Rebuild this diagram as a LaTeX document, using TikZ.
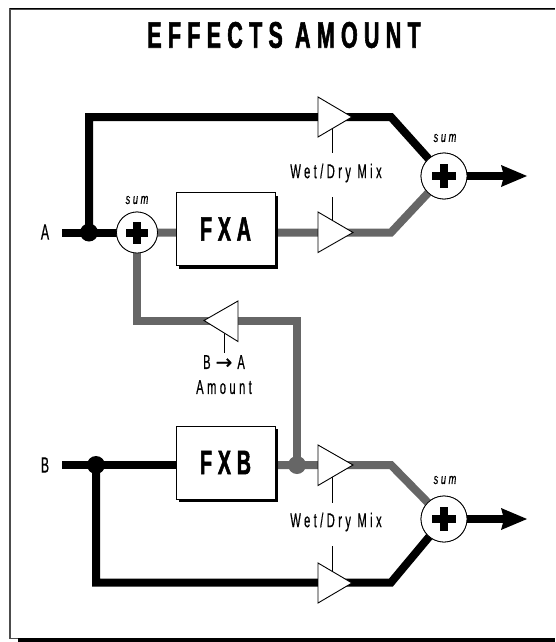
\documentclass[tikz,border=0pt]{standalone}
\usepackage{fontspec}
\setmainfont{Liberation Sans}
\newfontfamily\narrowfont[FakeStretch=0.56,LetterSpace=17,FakeBold=0.5]{Liberation Sans}
\newfontfamily\sumfont[FakeStretch=0.62,LetterSpace=17,FakeBold=0.5]{Liberation Sans}
\newfontfamily\titlefont[FakeStretch=0.58,LetterSpace=17,FakeBold=1.5]{Liberation Sans}
\newfontfamily\arrowfont[FakeBold=0.6]{DejaVu Sans}
\usetikzlibrary{arrows.meta}
\definecolor{wetgray}{HTML}{666666}
\tikzset{
 x=1pt,y=-1pt,
 blackwire/.style={line width=8pt,black,line join=miter},
 graywire/.style={line width=8pt,wetgray,line join=miter},
 junction/.style={circle,fill=#1,inner sep=0pt,minimum size=18pt},
 sumnode/.style={circle,draw=black,fill=white,line width=0.8pt,inner sep=0pt,minimum size=#1},
 fxbox/.style={rectangle,draw=black,fill=white,line width=1pt,minimum width=99pt,minimum height=73pt,inner sep=0pt,font=\titlefont\bfseries\fontsize{34}{34}\selectfont},
 amp/.style={draw=black,fill=white,line width=0.9pt,line join=miter},
 ctrl/.style={line width=0.7pt,black},
 lab/.style={inner sep=0pt,font=\narrowfont\fontsize{20}{25}\selectfont,align=center},
 sumlab/.style={inner sep=0pt,font=\sumfont\itshape\fontsize{15}{15}\selectfont},
 plus/.style={line width=8pt,black},
}
\begin{document}
\begin{tikzpicture}
\useasboundingbox (0,0) rectangle (555,642);
\fill[white] (0,0) rectangle (555,642);
% frame
\fill[black] (18,637.5) rectangle (555,642);
\draw[line width=1.4pt,black!70] (10,638.5) -- (10,9) -- (555,9);
\draw[line width=1pt,black] (9.5,8.5) -- (555,8.5);
\draw[line width=1pt,black!70] (10,638.5) -- (18,638.5);
\node[inner sep=0pt,font=\titlefont\bfseries\fontsize{37}{37}\selectfont] (title) at (284,35) {EFFECTS AMOUNT};
% coordinates
\coordinate (ainp) at (62,232.5);
\coordinate (ajun) at (89,232.5);
\coordinate (atop) at (89,117);
\coordinate (atopr) at (391,117);
\coordinate (bjun) at (96,465);
\coordinate (binp) at (62,465);
\coordinate (bmid) at (228,465);
\coordinate (bbot) at (96,582.5);
\coordinate (bbotr) at (391,582.5);
\coordinate (gmid) at (297,465);
\coordinate (gtop) at (297,320.5);
\coordinate (gleft) at (137,320.5);
\coordinate (uelbow) at (391,232.5);
\coordinate (velbow) at (391,465);
\node[sumnode=41pt] (suma) at (137,232.5) {};
\node[sumnode=46pt] (sumu) at (444,176) {};
\node[sumnode=46pt] (sumv) at (444,519) {};
% wires
\draw[blackwire] (ainp) -- (suma.center);
\draw[blackwire] (ajun) -- (atop) -- (atopr) -- (sumu.center);
\draw[blackwire] (binp) -- (bmid);
\draw[blackwire] (bjun) -- (bbot) -- (bbotr) -- (sumv.center);
\draw[graywire] (suma.center) -- (uelbow) -- (sumu.center);
\draw[graywire] (bmid) -- (velbow) -- (sumv.center);
\draw[graywire] (suma.center) -- (gleft) -- (gtop) -- (gmid);
\draw[blackwire] (sumu.center) -- (505,176);
\draw[blackwire] (sumv.center) -- (505,519);
\node[junction=black] (ja) at (ajun) {};
\node[junction=black] (jb) at (bjun) {};
\node[junction=wetgray] (jg) at (gmid) {};
% sums redrawn over wires
\node[sumnode=41pt] at (suma) {};
\node[sumnode=46pt] at (sumu) {};
\node[sumnode=46pt] at (sumv) {};
\draw[plus] ([xshift=-11pt]suma.center) -- ([xshift=11pt]suma.center);
\draw[plus] ([yshift=-11pt]suma.center) -- ([yshift=11pt]suma.center);
\foreach \n in {sumu,sumv}{
 \draw[plus] ([xshift=-12pt]\n.center) -- ([xshift=12pt]\n.center);
 \draw[plus] ([yshift=-12pt]\n.center) -- ([yshift=12pt]\n.center);
}
% arrowheads
\coordinate (tu) at (527,176);
\coordinate (tv) at (527,519);
\fill (tu) -- (501,165) -- (504,176) -- (501,187) -- cycle;
\fill (tv) -- (501,508) -- (504,519) -- (501,530) -- cycle;
% boxes
\node[fxbox,draw=none,fill=black] (fxashadow) at (228,232) {};
\node[fxbox,draw=none,fill=black] (fxbshadow) at (228,465.5) {};
\node[fxbox] (fxa) at (225.5,229) {FXA};
\node[fxbox] (fxb) at (225.5,462.5) {FXB};
% amps and control lines
\draw[ctrl] (332.5,117) -- (332.5,153);
\draw[ctrl] (332.5,197) -- (332.5,232);
\draw[ctrl] (332.5,465) -- (332.5,502.5);
\draw[ctrl] (332.5,546) -- (332.5,583);
\draw[ctrl] (224,320) -- (224,353);
\draw[amp] (318,97) -- (352,117) -- (318,137) -- cycle;
\draw[amp] (318,212) -- (353,232.5) -- (318,252.5) -- cycle;
\draw[amp] (318,445) -- (353,465) -- (318,485.5) -- cycle;
\draw[amp] (318,563) -- (352,583) -- (318,603) -- cycle;
\draw[amp] (238,301) -- (204,320.5) -- (238,341.5) -- cycle;
% labels
\node[lab] (wa) at (336,173) {Wet/Dry Mix};
\node[lab] (wb) at (336,522) {Wet/Dry Mix};
\node[lab,anchor=north] (ba) at (224,355) {B\kern5pt{\arrowfont\fontsize{20}{17}\selectfont →}\kern5pt A\\Amount};
\node[lab,font=\narrowfont\fontsize{22}{22}\selectfont] (la) at (45,232) {A};
\node[lab,font=\narrowfont\fontsize{22}{22}\selectfont] (lb) at (45,465) {B};
\node[sumlab] (sa) at (137,200) {sum};
\node[sumlab] (su) at (445,138) {sum};
\node[sumlab] (sv) at (445,480) {sum};
\end{tikzpicture}
\end{document}
